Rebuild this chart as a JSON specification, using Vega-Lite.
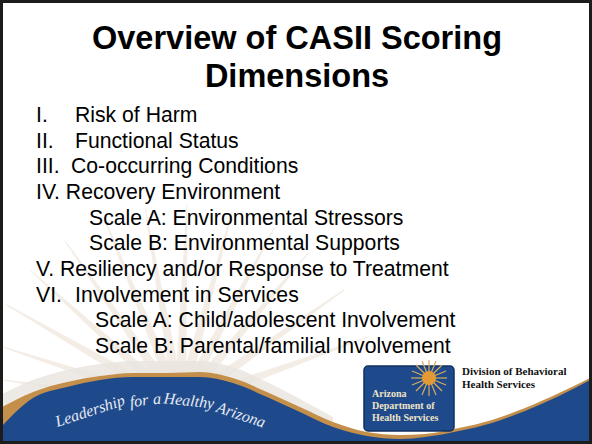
{
  "$schema": "https://vega.github.io/schema/vega-lite/v6.json",
  "width": 592,
  "height": 444,
  "autosize": {"type": "fit", "contains": "padding"},
  "padding": 0,
  "background": "white",
  "config": {"view": {"stroke": null}},
  "encoding": {
    "x": {"field": "x", "type": "quantitative", "scale": {"domain": [0, 592], "nice": false, "zero": false}, "axis": null},
    "y": {"field": "y", "type": "quantitative", "scale": {"domain": [0, 444], "reverse": true, "nice": false, "zero": false}, "axis": null}
  },
  "layer": [
    {
      "data": {"values": [
        {"ray": 1, "end": "base", "x": 180, "y": 405}, {"ray": 1, "end": "tip", "x": 368, "y": 337},
        {"ray": 2, "end": "base", "x": 180, "y": 405}, {"ray": 2, "end": "tip", "x": 344, "y": 290},
        {"ray": 3, "end": "base", "x": 180, "y": 405}, {"ray": 3, "end": "tip", "x": 309, "y": 252},
        {"ray": 4, "end": "base", "x": 180, "y": 405}, {"ray": 4, "end": "tip", "x": 274, "y": 228},
        {"ray": 5, "end": "base", "x": 180, "y": 405}, {"ray": 5, "end": "tip", "x": 232, "y": 212},
        {"ray": 6, "end": "base", "x": 180, "y": 405}, {"ray": 6, "end": "tip", "x": 187, "y": 205},
        {"ray": 7, "end": "base", "x": 180, "y": 405}, {"ray": 7, "end": "tip", "x": 145, "y": 208},
        {"ray": 8, "end": "base", "x": 180, "y": 405}, {"ray": 8, "end": "tip", "x": 105, "y": 220},
        {"ray": 9, "end": "base", "x": 180, "y": 405}, {"ray": 9, "end": "tip", "x": 65, "y": 241},
        {"ray": 10, "end": "base", "x": 180, "y": 405}, {"ray": 10, "end": "tip", "x": 31, "y": 271},
        {"ray": 11, "end": "base", "x": 180, "y": 405}, {"ray": 11, "end": "tip", "x": 7, "y": 305},
        {"ray": 12, "end": "base", "x": 180, "y": 405}, {"ray": 12, "end": "tip", "x": 3, "y": 347},
        {"ray": 13, "end": "base", "x": 180, "y": 405}, {"ray": 13, "end": "tip", "x": 3, "y": 380}
      ]},
      "mark": {"type": "trail", "color": "#eee6da", "opacity": 0.7},
      "encoding": {
        "detail": {"field": "ray", "type": "nominal"},
        "order": {"field": "end", "type": "ordinal", "sort": "ascending"},
        "size": {"field": "end", "type": "ordinal", "scale": {"domain": ["base", "tip"], "range": [12, 1]}, "legend": null}
      }
    },
    {
      "data": {"values": [
        {"x": 0, "y": 395, "y2": 408}, {"x": 33, "y": 380, "y2": 392}, {"x": 67, "y": 370, "y2": 382},
        {"x": 100, "y": 364, "y2": 376}, {"x": 133, "y": 361, "y2": 373}, {"x": 167, "y": 361, "y2": 373},
        {"x": 200, "y": 361, "y2": 372}, {"x": 233, "y": 367, "y2": 378}, {"x": 267, "y": 382, "y2": 392},
        {"x": 300, "y": 399, "y2": 407}, {"x": 333, "y": 417, "y2": 422}
      ]},
      "mark": {"type": "area", "color": "#e9e5df", "opacity": 0.8, "interpolate": "monotone"},
      "encoding": {"y2": {"field": "y2"}}
    },
    {
      "data": {"values": [
        {"x": 0, "y": 408}, {"x": 33, "y": 392}, {"x": 67, "y": 382}, {"x": 100, "y": 376},
        {"x": 133, "y": 373}, {"x": 167, "y": 373}, {"x": 200, "y": 372}, {"x": 233, "y": 378},
        {"x": 267, "y": 392}, {"x": 300, "y": 407}, {"x": 333, "y": 422}, {"x": 367, "y": 432},
        {"x": 400, "y": 435}, {"x": 425, "y": 434}, {"x": 459, "y": 428}, {"x": 492, "y": 420},
        {"x": 525, "y": 408}, {"x": 559, "y": 393}, {"x": 592, "y": 377}
      ]},
      "mark": {"type": "area", "color": "#c48f4b", "interpolate": "monotone"},
      "encoding": {"y2": {"datum": 444}}
    },
    {
      "data": {"values": [
        {"x": 0, "y": 428}, {"x": 33, "y": 398}, {"x": 67, "y": 387}, {"x": 100, "y": 380},
        {"x": 133, "y": 377}, {"x": 167, "y": 377}, {"x": 200, "y": 377}, {"x": 233, "y": 383},
        {"x": 267, "y": 397}, {"x": 300, "y": 412}, {"x": 333, "y": 427}, {"x": 367, "y": 436},
        {"x": 400, "y": 439}, {"x": 425, "y": 437}, {"x": 459, "y": 431}, {"x": 492, "y": 423},
        {"x": 525, "y": 411}, {"x": 559, "y": 396}, {"x": 592, "y": 379}
      ]},
      "mark": {"type": "area", "color": "#1e4a8c", "interpolate": "monotone"},
      "encoding": {"y2": {"datum": 444}}
    },
    {
      "data": {"values": [{"x": 364, "x2": 454, "y": 366, "y2": 431}]},
      "mark": {"type": "rect", "color": "#1e4a8c", "stroke": "#10305f", "strokeWidth": 1.5, "cornerRadius": 4},
      "encoding": {"x2": {"field": "x2"}, "y2": {"field": "y2"}}
    },
    {
      "data": {"values": [
        {"x": 429, "y": 378, "x2": 447, "y2": 378}, {"x": 429, "y": 378, "x2": 446, "y2": 371},
        {"x": 429, "y": 378, "x2": 442, "y2": 365}, {"x": 429, "y": 378, "x2": 436, "y2": 361},
        {"x": 429, "y": 378, "x2": 429, "y2": 360}, {"x": 429, "y": 378, "x2": 422, "y2": 361},
        {"x": 429, "y": 378, "x2": 416, "y2": 365}, {"x": 429, "y": 378, "x2": 412, "y2": 371},
        {"x": 429, "y": 378, "x2": 411, "y2": 378}, {"x": 429, "y": 378, "x2": 412, "y2": 385},
        {"x": 429, "y": 378, "x2": 416, "y2": 391}, {"x": 429, "y": 378, "x2": 422, "y2": 395},
        {"x": 429, "y": 378, "x2": 429, "y2": 396}, {"x": 429, "y": 378, "x2": 436, "y2": 395},
        {"x": 429, "y": 378, "x2": 442, "y2": 391}, {"x": 429, "y": 378, "x2": 446, "y2": 385}
      ]},
      "mark": {"type": "rule", "color": "#d9ab5c", "strokeWidth": 1.2},
      "encoding": {"x2": {"field": "x2"}, "y2": {"field": "y2"}}
    },
    {
      "data": {"values": [{"x": 429, "y": 378}]},
      "mark": {"type": "point", "filled": true, "color": "#e39a36", "size": 200, "opacity": 1}
    },
    {
      "data": {"values": [
        {"x": 372, "y": 397, "t": "Arizona"},
        {"x": 372, "y": 409, "t": "Department of"},
        {"x": 372, "y": 421, "t": "Health Services"}
      ]},
      "mark": {"type": "text", "font": "Liberation Serif", "fontWeight": "bold", "fontSize": 10, "color": "#efe3c6", "align": "left", "baseline": "alphabetic"},
      "encoding": {"text": {"field": "t"}}
    },
    {
      "data": {"values": [
        {"x": 462, "y": 375, "t": "Division of Behavioral"},
        {"x": 462, "y": 388, "t": "Health Services"}
      ]},
      "mark": {"type": "text", "font": "Liberation Serif", "fontWeight": "bold", "fontSize": 11, "color": "#111111", "align": "left", "baseline": "alphabetic"},
      "encoding": {"text": {"field": "t"}}
    },
    {
      "data": {"values": [
        {"x": 90, "y": 411, "a": -18, "t": "Leadership"},
        {"x": 139, "y": 401, "a": -8, "t": "for"},
        {"x": 157, "y": 399, "a": -3, "t": "a"},
        {"x": 189, "y": 401, "a": 6, "t": "Healthy"},
        {"x": 241, "y": 415, "a": 19, "t": "Arizona"}
      ]},
      "mark": {"type": "text", "font": "Liberation Serif", "fontStyle": "italic", "fontSize": 16, "color": "#e8ebf1", "align": "center", "baseline": "middle"},
      "encoding": {"text": {"field": "t"}, "angle": {"field": "a", "type": "quantitative", "scale": null}}
    },
    {
      "data": {"values": [
        {"x": 297, "y": 49, "t": "Overview of CASII Scoring"},
        {"x": 297, "y": 87, "t": "Dimensions"}
      ]},
      "mark": {"type": "text", "font": "Liberation Sans", "fontWeight": "bold", "fontSize": 32.5, "color": "#000000", "align": "center", "baseline": "alphabetic"},
      "encoding": {"text": {"field": "t"}}
    },
    {
      "data": {"values": [
        {"x": 36, "y": 122, "t": "I."},
        {"x": 75, "y": 122, "t": "Risk of Harm"},
        {"x": 36, "y": 147.7, "t": "II."},
        {"x": 75, "y": 147.7, "t": "Functional Status"},
        {"x": 36, "y": 173.3, "t": "III."},
        {"x": 71, "y": 173.3, "t": "Co-occurring Conditions"},
        {"x": 36, "y": 199, "t": "IV. Recovery Environment"},
        {"x": 89, "y": 224.7, "t": "Scale A: Environmental Stressors"},
        {"x": 89, "y": 250.3, "t": "Scale B: Environmental Supports"},
        {"x": 36, "y": 276, "t": "V. Resiliency and/or Response to Treatment"},
        {"x": 36, "y": 301.7, "t": "VI."},
        {"x": 75, "y": 301.7, "t": "Involvement in Services"},
        {"x": 95, "y": 327.3, "t": "Scale A: Child/adolescent Involvement"},
        {"x": 95, "y": 353, "t": "Scale B: Parental/familial Involvement"}
      ]},
      "mark": {"type": "text", "font": "Liberation Sans", "fontSize": 21.2, "color": "#000000", "align": "left", "baseline": "alphabetic"},
      "encoding": {"text": {"field": "t"}}
    },
    {
      "data": {"values": [{"x": 1.5, "x2": 590.5, "y": 1.5, "y2": 442.5}]},
      "mark": {"type": "rect", "fill": null, "fillOpacity": 0, "stroke": "#1c1c1c", "strokeWidth": 3},
      "encoding": {"x2": {"field": "x2"}, "y2": {"field": "y2"}}
    }
  ]
}
